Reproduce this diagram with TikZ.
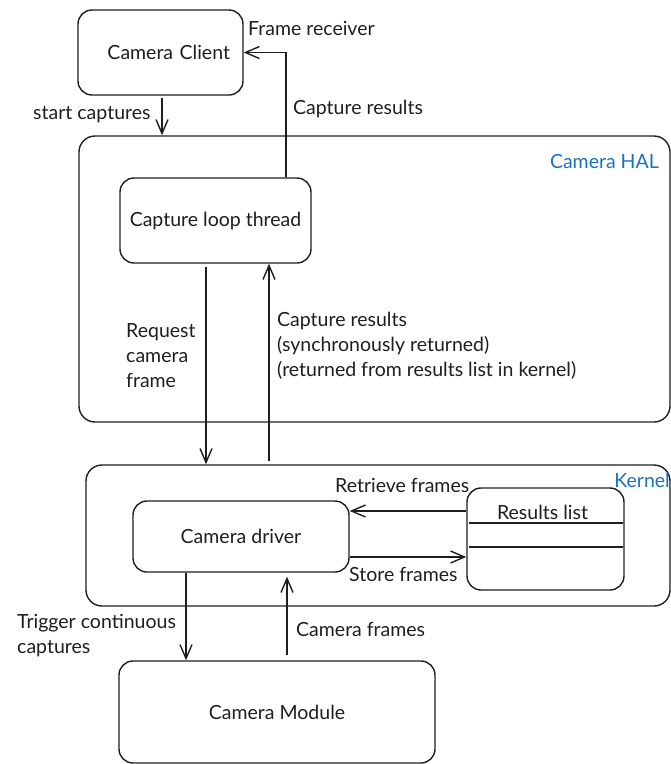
\documentclass[tikz,border=0pt]{standalone}
\usepackage{fontspec}
\setmainfont{Lato}
\usetikzlibrary{arrows.meta}
\definecolor{ink}{HTML}{1E1E1E}
\definecolor{exblue}{HTML}{1971C2}
\begin{document}
\begin{tikzpicture}[x=1pt,y=-1pt,
  font=\fontsize{19.5}{25}\selectfont,
  box/.style={draw=ink, line width=1.4pt, rounded corners=14pt, inner sep=0pt, text=ink, align=center},
  bigbox/.style={draw=ink, line width=1.4pt, rounded corners=16pt, inner sep=0pt},
  txt/.style={text=ink, inner sep=0pt, align=left},
  layer/.style={text=exblue, inner sep=0pt},
  arr/.style={draw=ink, line width=1.4pt, -{Straight Barb[length=14pt,width=12pt,line width=1.4pt]}},
  ln/.style={draw=ink, line width=1.4pt}]
\useasboundingbox (0,0) rectangle (671,764);

% containers
\node[bigbox, minimum width=591pt, minimum height=286pt] (hal) at (374.5,279) {};
\node[bigbox, minimum width=584pt, minimum height=141pt] (kern) at (378,535.5) {};

% boxes
\node[box, minimum width=165pt, minimum height=85pt, text width=139pt, inner xsep=13pt, align=right] (cc) at (160.5,52.5) {Camera Client};
\node[box, minimum width=191pt, minimum height=85pt] (clt) at (215.5,220.5) {Capture loop thread};
\node[box, minimum width=216pt, minimum height=71pt] (drv) at (241,536.5) {Camera driver};
\node[box, minimum width=157pt, minimum height=102pt] (rl) at (545.5,539) {};
\node[txt] (rltitle) at (542.5,512) {Results list};
\node[box, minimum width=316pt, minimum height=102pt] (mod) at (277,712) {Camera Module};

% layer labels
\node[layer, anchor=east] (hallbl) at (659,162) {Camera HAL};
\node[layer, anchor=east] (kernlbl) at (670,480) {Kernel};

% results list rows
\coordinate (r1) at (0,523);
\coordinate (r2) at (0,547);
\draw[ln] ([xshift=3pt]rl.west |- r1) -- ([xshift=-2pt]rl.east |- r1);
\draw[ln] ([xshift=3pt]rl.west |- r2) -- ([xshift=-2pt]rl.east |- r2);

% connectors
\coordinate (sc) at (162,98);
\draw[arr] (sc) -- (sc |- hal.north);
\coordinate (crx) at (286,0);
\draw[arr] (clt.north -| crx) |- (cc.east);
\coordinate (rq) at (206,267);
\draw[arr] (rq) -- (rq |- kern.north);
\coordinate (up) at (269,461);
\draw[arr] (up) -- (up |- clt.south);
\coordinate (rt) at (0,511);
\draw[arr] (rl.west |- rt) -- (drv.east |- rt);
\coordinate (st) at (0,557);
\draw[arr] (drv.east |- st) -- (rl.west |- st);
\coordinate (tg) at (186,0);
\draw[arr] (drv.south -| tg) -- (tg |- mod.north);
\coordinate (cf) at (287,655);
\draw[arr] (cf) -- ([yshift=-4pt]cf |- drv.south);

% connector labels
\node[txt, anchor=west] (l1) at (248,28) {Frame receiver};
\node[txt, anchor=west] (l2) at (33,115) {start captures};
\node[txt, anchor=west] (l3) at (293,109) {Capture results};
\node[txt, anchor=west] (l4) at (126,356) {Request\\camera\\frame};
\node[txt, anchor=west] (l5) at (277,346) {Capture results\\(synchronously returned)\\(returned from results list in kernel)};
\node[txt, anchor=west] (l6) at (335,485) {Retrieve frames};
\node[txt, anchor=west] (l7) at (349,574) {Store frames};
\node[txt, anchor=west] (l8) at (17,635.5) {Trigger continuous\\captures};
\node[txt, anchor=west] (l9) at (296,629) {Camera frames};
\end{tikzpicture}
\end{document}
